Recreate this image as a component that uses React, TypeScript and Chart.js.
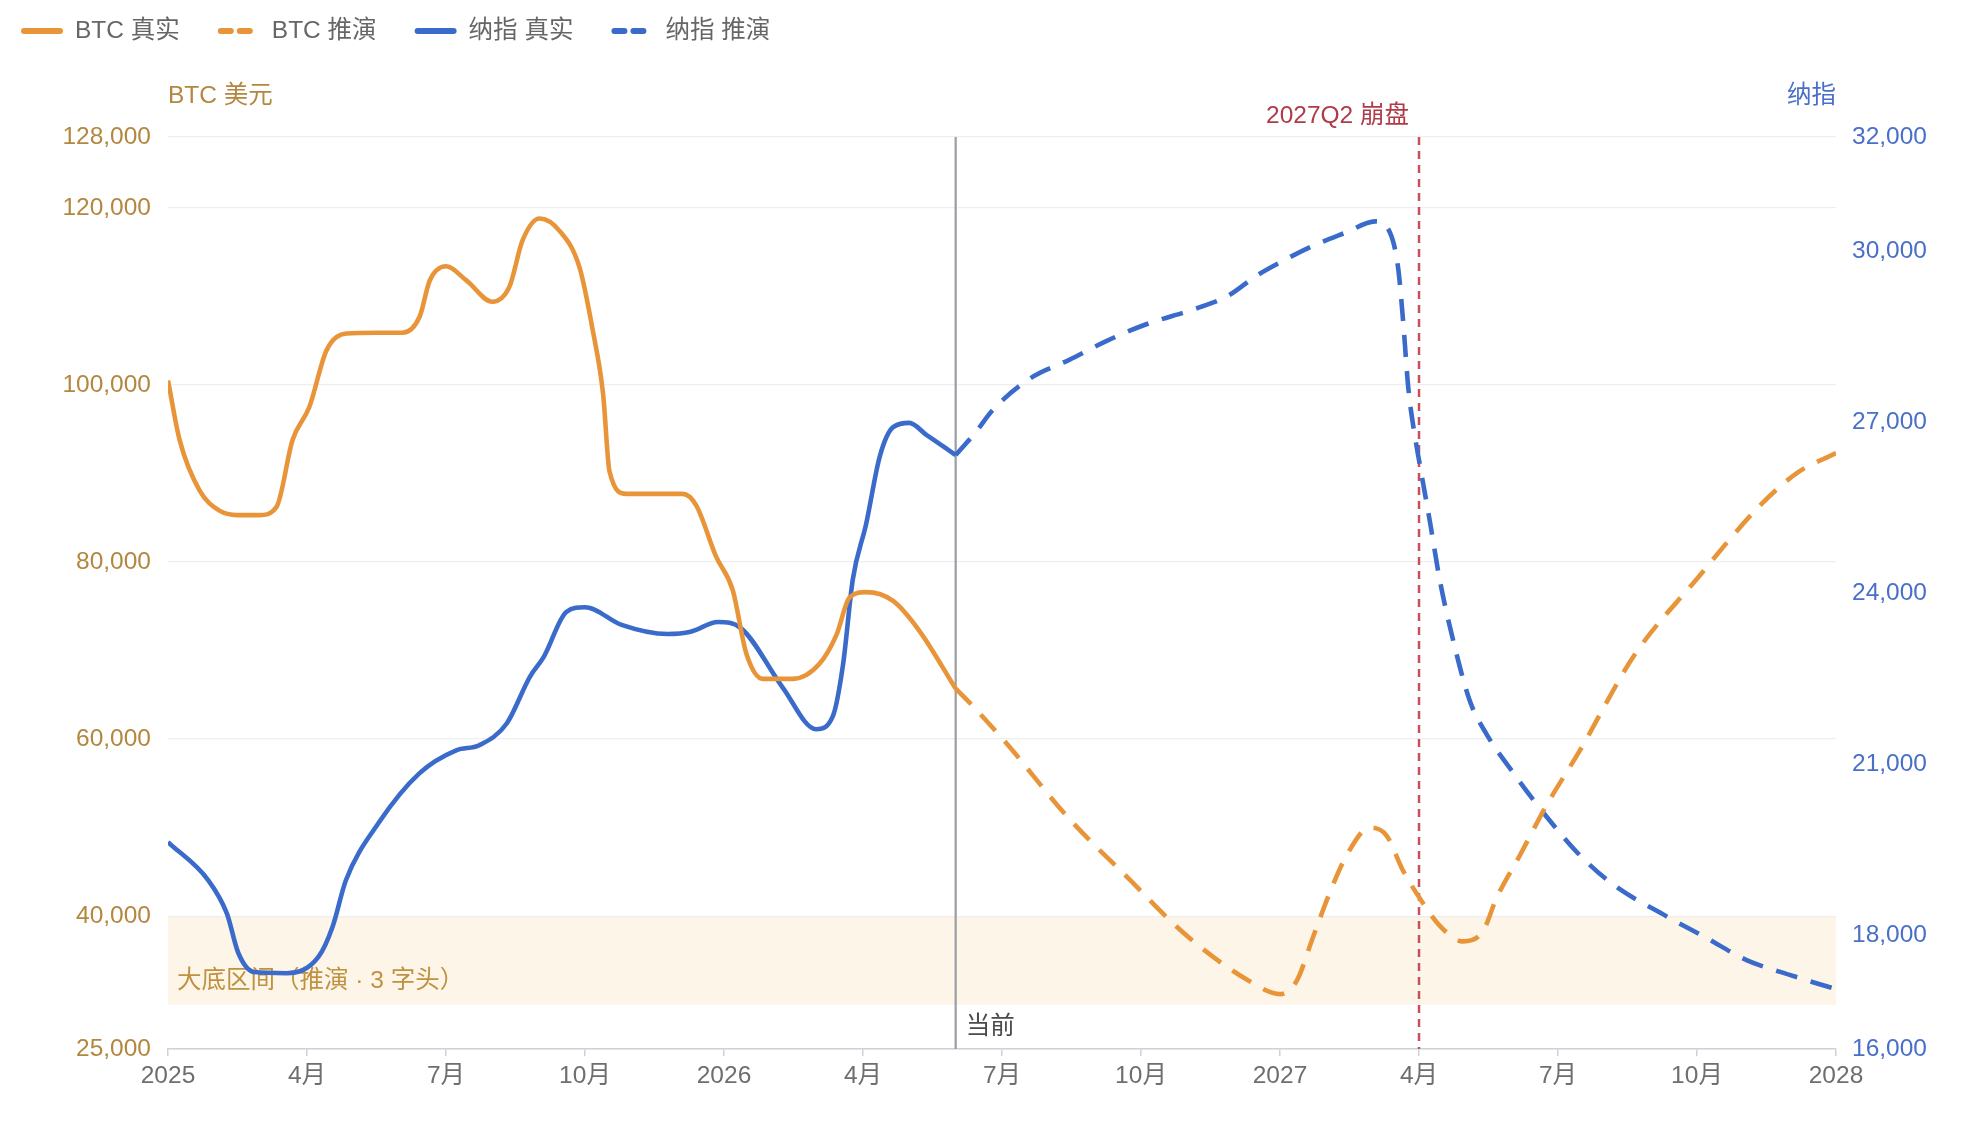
import React, { useEffect, useRef } from 'react';
import { Chart, registerables } from 'chart.js';

Chart.register(...registerables);

const FONT = '"Liberation Sans", "Noto Sans CJK SC", sans-serif';
const FS = 24.5;

// ---- axes ----
const xTickMonths = [0, 3, 6, 9, 12, 15, 18, 21, 24, 27, 30, 33, 36];
const startYear = 2025;
const btcTicks = [25000, 40000, 60000, 80000, 100000, 120000, 128000];
const ndxTicks = [16000, 18000, 21000, 24000, 27000, 30000, 32000];

// ---- BTC real (months since 2025-01) ----
const btcRealMonths = [0, 0.25, 0.68, 1.11, 1.5, 1.97, 2.34, 2.69, 3.05, 3.42, 3.85, 4.5, 5.06, 5.43, 5.65, 6.0, 6.44, 7.0, 7.37, 7.65, 8.02, 8.45, 8.88, 9.17, 9.39, 9.53, 9.89, 10.5, 11.11, 11.4, 11.83, 12.19, 12.48, 12.84, 13.49, 14.06, 14.43, 14.71, 15.07, 15.65, 16.22, 17.0];
const btcRealValues = [100500, 93800, 88100, 85800, 85300, 85300, 86200, 93800, 97500, 103900, 105800, 105900, 105900, 107700, 111800, 113400, 111800, 109400, 111100, 116300, 118800, 117400, 113300, 106100, 99000, 90200, 87700, 87700, 87700, 86400, 80600, 76800, 69700, 66800, 66800, 68500, 71800, 76000, 76600, 75600, 72200, 65700];

// ---- BTC projection ----
const btcProjMonths = [17.0, 17.34, 18.1, 19.45, 20.8, 21.69, 22.36, 23.3, 24.0, 24.36, 24.71, 25.07, 25.44, 25.94, 26.3, 26.66, 27.02, 27.45, 27.95, 28.38, 28.67, 29.18, 29.75, 30.47, 31.65, 32.95, 34.4, 35.2, 36];
const btcProjValues = [65700, 63900, 59500, 51000, 43900, 39200, 36200, 32800, 31200, 32700, 37600, 42600, 46900, 50000, 49100, 45100, 42000, 38900, 37150, 38300, 42000, 46900, 52500, 58700, 69500, 77800, 86600, 90200, 92300];

// ---- Nasdaq real ----
const ndxRealMonths = [0, 0.87, 1.27, 1.52, 1.86, 2.56, 3.25, 3.55, 3.84, 4.54, 5.43, 6.22, 6.72, 7.31, 7.81, 8.11, 8.6, 9.0, 9.79, 10.78, 11.28, 11.87, 12.37, 13.26, 13.99, 14.35, 14.57, 14.78, 15.07, 15.36, 15.65, 16.0, 16.36, 17.0];
const ndxRealValues = [19630, 18960, 18380, 17680, 17350, 17330, 17620, 18140, 18960, 19960, 20840, 21240, 21330, 21710, 22530, 22880, 23670, 23750, 23440, 23280, 23320, 23490, 23380, 22350, 21610, 21840, 22750, 24240, 25220, 26390, 26910, 26985, 26780, 26420];

// ---- Nasdaq projection ----
const ndxProjMonths = [17.0, 17.45, 17.8, 18.6, 19.45, 20.25, 21.1, 22.15, 22.85, 23.5, 24.0, 24.71, 25.44, 26.05, 26.37, 26.55, 26.66, 26.77, 26.88, 27.02, 27.23, 27.45, 27.74, 28.1, 28.46, 29.03, 29.75, 30.47, 31.2, 32.36, 33.2, 34.07, 35.0, 36];
const ndxProjValues = [26420, 26840, 27210, 27760, 28090, 28420, 28710, 28980, 29200, 29570, 29800, 30090, 30330, 30520, 30330, 29700, 28740, 27590, 26910, 26240, 25280, 24220, 23160, 22100, 21520, 20850, 20080, 19400, 18880, 18320, 17950, 17560, 17300, 17050];

// ---- annotations ----
const legendLabels = ['BTC 真实', 'BTC 推演', '纳指 真实', '纳指 推演'];
const nowMonth = 17;
const nowLabel = '当前';
const crashMonth = 27;
const crashLabel = '2027Q2 崩盘';
const bandLow = 30000;
const bandHigh = 40000;
const bandLabel = '大底区间（推演 · 3 字头）';
const leftTitle = 'BTC 美元';
const rightTitle = '纳指';

const ORANGE = '#E8953A';
const BLUE = '#3A6BCB';

const toPoints = (xs: number[], ys: number[]) => xs.map((x, i) => ({ x, y: ys[i] }));
const xTickLabel = (m: number) => (m % 12 === 0 ? String(startYear + m / 12) : `${(m % 12) + 1}月`);
const fmt = (v: number) => Number(v).toLocaleString('en-US');

const overlayPlugin = {
  id: 'overlay',
  beforeDraw(chart: any) {
    const { ctx, chartArea: a, scales } = chart;
    const y = scales.y;
    const top = y.getPixelForValue(bandHigh);
    const bot = y.getPixelForValue(bandLow);
    ctx.save();
    ctx.fillStyle = '#FDF5E8';
    ctx.fillRect(a.left, top, a.right - a.left, bot - top);
    ctx.fillStyle = '#C0913F';
    ctx.font = `${FS}px ${FONT}`;
    ctx.textBaseline = 'middle';
    ctx.textAlign = 'left';
    ctx.fillText(bandLabel, a.left + 9, bot - 23);
    ctx.restore();
  },
  beforeDatasetsDraw(chart: any) {
    const { ctx, chartArea: a, scales } = chart;
    const nx = scales.x.getPixelForValue(nowMonth);
    const cx = scales.x.getPixelForValue(crashMonth);
    ctx.save();
    ctx.strokeStyle = '#9A9DA3';
    ctx.lineWidth = 2.2;
    ctx.beginPath();
    ctx.moveTo(nx, a.top);
    ctx.lineTo(nx, a.bottom);
    ctx.stroke();
    ctx.strokeStyle = '#C8505C';
    ctx.lineWidth = 2.5;
    ctx.setLineDash([8, 6]);
    ctx.beginPath();
    ctx.moveTo(cx, a.top);
    ctx.lineTo(cx, a.bottom);
    ctx.stroke();
    ctx.restore();
  },
  afterDraw(chart: any) {
    const { ctx, chartArea: a, scales } = chart;
    const nx = scales.x.getPixelForValue(nowMonth);
    const cx = scales.x.getPixelForValue(crashMonth);
    ctx.save();
    ctx.font = `${FS}px ${FONT}`;
    ctx.textBaseline = 'middle';
    // now label
    ctx.fillStyle = '#4A4A4A';
    ctx.textAlign = 'left';
    ctx.fillText(nowLabel, nx + 10, a.bottom - 22);
    // crash label
    ctx.fillStyle = '#B03A48';
    ctx.textAlign = 'right';
    ctx.fillText(crashLabel, cx - 10, a.top - 21);
    // axis titles
    ctx.fillStyle = '#B3873F';
    ctx.textAlign = 'left';
    ctx.fillText(leftTitle, a.left, a.top - 41);
    ctx.fillStyle = '#4A6FC9';
    ctx.textAlign = 'right';
    ctx.fillText(rightTitle, a.right, a.top - 41);
    // legend
    const colors = [ORANGE, ORANGE, BLUE, BLUE];
    const dashed = [false, true, false, true];
    let x = 21;
    const yc = 31;
    ctx.textAlign = 'left';
    legendLabels.forEach((lbl, i) => {
      ctx.strokeStyle = colors[i];
      ctx.lineWidth = 6;
      ctx.lineCap = 'round';
      ctx.setLineDash(dashed[i] ? [10, 9] : []);
      ctx.beginPath();
      ctx.moveTo(x + 3, yc);
      ctx.lineTo(x + 42 - 3, yc);
      ctx.stroke();
      ctx.setLineDash([]);
      ctx.fillStyle = '#666666';
      ctx.fillText(lbl, x + 54, yc);
      const w = ctx.measureText(lbl).width;
      x += 54 + w + 38;
    });
    ctx.restore();
  },
};

export default function App() {
  const ref = useRef<HTMLCanvasElement | null>(null);
  useEffect(() => {
    document.body.style.margin = '0';
    const canvas = ref.current;
    if (!canvas) return;
    Chart.defaults.font.family = FONT;
    const lineBase = {
      pointRadius: 0,
      pointHoverRadius: 0,
      borderWidth: 4.6,
      fill: false,
      cubicInterpolationMode: 'monotone' as const,
      borderJoinStyle: 'round' as const,
    };
    const chart = new Chart(canvas, {
      type: 'line',
      data: {
        datasets: [
          { ...lineBase, label: legendLabels[0], data: toPoints(btcRealMonths, btcRealValues), borderColor: ORANGE, yAxisID: 'y' },
          { ...lineBase, label: legendLabels[1], data: toPoints(btcProjMonths, btcProjValues), borderColor: ORANGE, borderDash: [22, 14], yAxisID: 'y' },
          { ...lineBase, label: legendLabels[2], data: toPoints(ndxRealMonths, ndxRealValues), borderColor: BLUE, yAxisID: 'y1' },
          { ...lineBase, label: legendLabels[3], data: toPoints(ndxProjMonths, ndxProjValues), borderColor: BLUE, borderDash: [22, 14], yAxisID: 'y1' },
        ],
      },
      options: {
        responsive: false,
        animation: false,
        devicePixelRatio: 1,
        layout: { padding: { top: 137, left: 0, right: 0, bottom: 0 } },
        plugins: { legend: { display: false }, tooltip: { enabled: false } },
        scales: {
          x: {
            type: 'linear',
            min: 0,
            max: 36,
            afterBuildTicks: (s: any) => { s.ticks = xTickMonths.map((v) => ({ value: v })); },
            afterFit: (s: any) => { s.height = 1136 - 1049; },
            ticks: {
              callback: (v: any) => xTickLabel(Number(v)),
              color: '#6E6E6E',
              font: { size: FS, family: FONT },
              padding: 6,
              maxRotation: 0,
              autoSkip: false,
            },
            grid: { drawOnChartArea: false, drawTicks: true, tickLength: 7, color: '#CDD1D8', lineWidth: 1.5 },
            border: { display: true, color: '#CDD1D8', width: 1.5 },
          },
          y: {
            type: 'linear',
            position: 'left',
            min: 25000,
            max: 128000,
            afterBuildTicks: (s: any) => { s.ticks = btcTicks.map((v) => ({ value: v })); },
            afterFit: (s: any) => { s.width = 168; },
            ticks: { callback: (v: any) => fmt(v), color: '#B3873F', font: { size: FS, family: FONT }, padding: 17 },
            grid: { color: '#EEEEEE', lineWidth: 1.2, drawTicks: false },
            border: { display: false },
          },
          y1: {
            type: 'linear',
            position: 'right',
            min: 16000,
            max: 32000,
            afterBuildTicks: (s: any) => { s.ticks = ndxTicks.map((v) => ({ value: v })); },
            afterFit: (s: any) => { s.width = 1972 - 1836; },
            ticks: { callback: (v: any) => fmt(v), color: '#4A6FC9', font: { size: FS, family: FONT }, padding: 16 },
            grid: { drawOnChartArea: false, drawTicks: false },
            border: { display: false },
          },
        },
      },
      plugins: [overlayPlugin],
    });
    return () => chart.destroy();
  }, []);
  return (
    <div style={{ width: 1972, height: 1136, background: '#ffffff' }}>
      <canvas ref={ref} width={1972} height={1136} style={{ display: 'block', width: 1972, height: 1136 }} />
    </div>
  );
}
